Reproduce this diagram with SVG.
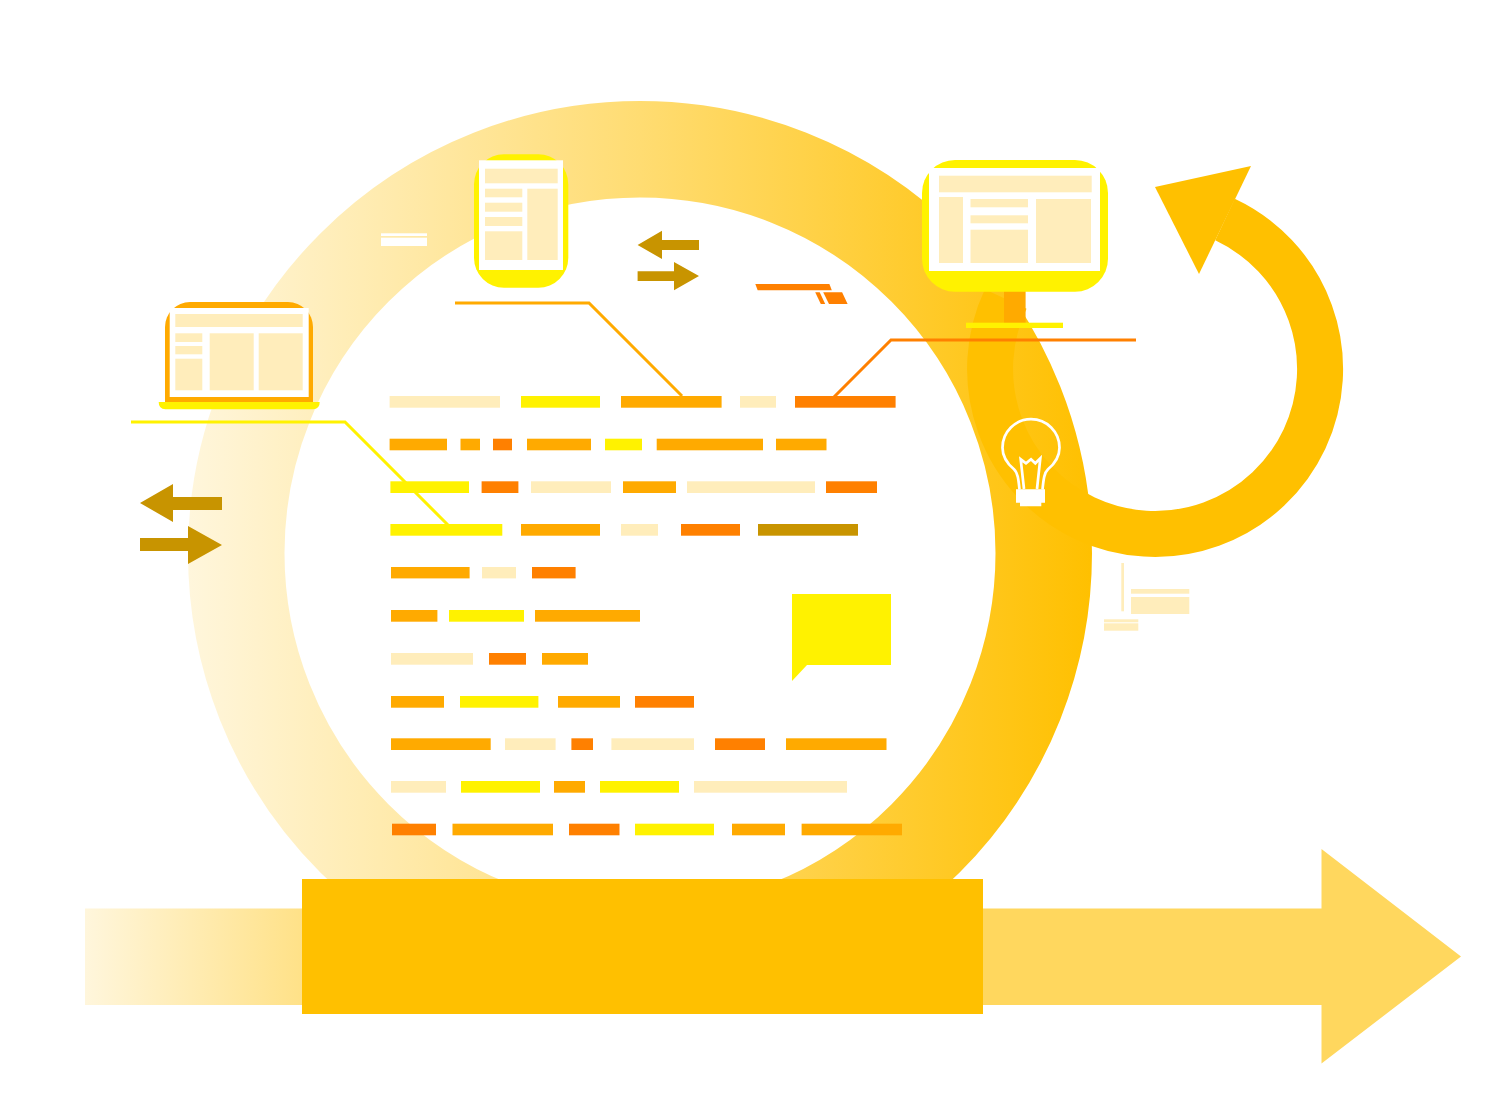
<svg xmlns="http://www.w3.org/2000/svg" width="1511" height="1103" viewBox="0 0 1511 1103">
<style>
.y{fill:#FFF200}.o{fill:#FFAA00}.d{fill:#FF8000}.b{fill:#C89400}.c{fill:#FFEDBB}.w{fill:#fff}
.link{fill:none;stroke-width:3}
</style>
<defs>
<linearGradient id="ringGrad" gradientUnits="userSpaceOnUse" x1="188" y1="0" x2="1092" y2="0">
<stop offset="0" stop-color="#FFF6DC"/><stop offset="0.5" stop-color="#FFDC72"/><stop offset="1" stop-color="#FFC000"/>
</linearGradient>
<linearGradient id="bandGrad" gradientUnits="userSpaceOnUse" x1="85" y1="0" x2="410" y2="0">
<stop offset="0" stop-color="#FFF6DC"/><stop offset="1" stop-color="#FFD75E"/>
</linearGradient>
</defs>
<rect width="1511" height="1103" fill="#fff"/>
<g id="cycle-ring">
<circle cx="640" cy="553" r="403.750" fill="none" stroke="url(#ringGrad)" stroke-width="96.500"/>
<rect class="w" x="381" y="233.300" width="46" height="2.700"/>
<rect class="w" x="381" y="237.700" width="46" height="8.300"/>
</g>
<g id="timeline-arrow">
<path d="M85 908.500H1321.500V849L1461 956.500L1321.500 1063.500V1005H85Z" fill="url(#bandGrad)"/>
<rect x="302" y="879" width="681" height="135" fill="#FFC000"/>
</g>
<g id="loop-arrow">
<path d="M1225 219.500A165 165 0 1 1 1005.700 298.900" fill="none" stroke="#FFC000" stroke-width="46"/>
<polygon points="1155,187 1251,166 1199,274" fill="#FFC000"/>
</g>
<g id="connectors">
<path class="link" stroke="#FFF200" d="M131 422H345L448 525"/>
<path class="link" stroke="#FFAA00" d="M455 303H589L682 396"/>
<path class="link" stroke="#FF8000" d="M1136 340H891L834 397"/>
</g>
<g id="laptop">
<path class="o" d="M165 402V327A25 25 0 0 1 190 302H288A25 25 0 0 1 313 327V402Z"/>
<rect class="w" x="169.700" y="308" width="139" height="89"/>
<path class="y" d="M158.700 402H319.700Q319.700 409.300 313 409.300H165.400Q158.700 409.300 158.700 402Z"/>
<rect class="c" x="175.300" y="314" width="127.400" height="13"/>
<rect class="c" x="175.300" y="333.300" width="27" height="8.700"/>
<rect class="c" x="175.300" y="346" width="27" height="8.300"/>
<rect class="c" x="175.300" y="358.700" width="27" height="31.600"/>
<rect class="c" x="209.700" y="333.300" width="44" height="57"/>
<rect class="c" x="258.700" y="333.300" width="44" height="57"/>
</g>
<g id="tablet">
<rect class="y" x="474" y="154.300" width="94.300" height="133.400" rx="30" ry="30"/>
<rect class="w" x="479" y="160.300" width="84" height="109.700"/>
<rect class="c" x="485" y="168.700" width="72.700" height="14.600"/>
<rect class="c" x="485" y="188.700" width="37.300" height="8.600"/>
<rect class="c" x="485" y="202.700" width="37.300" height="9"/>
<rect class="c" x="485" y="217" width="37.300" height="9"/>
<rect class="c" x="485" y="231.300" width="37.300" height="28.700"/>
<rect class="c" x="527.300" y="188.700" width="30.400" height="71.300"/>
</g>
<g id="monitor">
<rect class="o" x="1004" y="285" width="21.600" height="43"/>
<rect class="y" x="966" y="322.700" width="97" height="5.300"/>
<rect class="y" x="922" y="160" width="186" height="131.700" rx="33" ry="33"/>
<rect class="w" x="929" y="168" width="171" height="103"/>
<rect class="c" x="939" y="175.700" width="152.700" height="16.600"/>
<rect class="c" x="939" y="197" width="24" height="66"/>
<rect class="c" x="970.500" y="199" width="57.500" height="8.300"/>
<rect class="c" x="970.500" y="215.300" width="57.500" height="8"/>
<rect class="c" x="970.500" y="229.700" width="57.500" height="33.300"/>
<rect class="c" x="1036" y="199" width="55" height="64"/>
</g>
<g id="arrows-top">
<polygon class="b" points="637.600,245 662,230.700 662,240 699,240 699,250 662,250 662,259"/>
<polygon class="b" points="637.600,271.300 674,271.300 674,262 699,276 674,290.300 674,281 637.600,281"/>
</g>
<g id="arrows-left">
<polygon class="b" points="140,503 173,484 173,497 222,497 222,510 173,510 173,522"/>
<polygon class="b" points="140,538 188,538 188,526 222,545 188,564 188,551 140,551"/>
</g>
<g id="fragments">
<polygon class="d" points="755.300,284 829.400,284 831.800,290.300 757.700,290.300"/>
<polygon class="d" points="815.200,292.300 819.700,292.300 825.200,304 820.800,304"/>
<polygon class="d" points="823.200,292.300 842.100,292.300 847.600,304 829,304"/>
</g>
<g id="bars">
<rect class="c" x="389.600" y="396" width="110.400" height="11.700"/><rect class="y" x="521" y="396" width="79" height="11.700"/><rect class="o" x="621" y="396" width="100.600" height="11.700"/><rect class="c" x="740" y="396" width="36" height="11.700"/><rect class="d" x="795" y="396" width="100.600" height="11.700"/>
<rect class="o" x="389.600" y="438.700" width="57.400" height="11.600"/><rect class="o" x="460.500" y="438.700" width="19.500" height="11.600"/><rect class="d" x="493" y="438.700" width="19" height="11.600"/><rect class="o" x="527" y="438.700" width="64" height="11.600"/><rect class="y" x="605" y="438.700" width="37" height="11.600"/><rect class="o" x="656.700" y="438.700" width="106.300" height="11.600"/><rect class="o" x="776" y="438.700" width="50.500" height="11.600"/>
<rect class="y" x="390.400" y="481.300" width="78.600" height="11.700"/><rect class="d" x="481.600" y="481.300" width="36.800" height="11.700"/><rect class="c" x="531" y="481.300" width="80" height="11.700"/><rect class="o" x="623" y="481.300" width="53" height="11.700"/><rect class="c" x="687" y="481.300" width="128" height="11.700"/><rect class="d" x="826" y="481.300" width="51" height="11.700"/>
<rect class="y" x="390.400" y="524" width="111.900" height="11.700"/><rect class="o" x="521" y="524" width="79" height="11.700"/><rect class="c" x="621" y="524" width="37" height="11.700"/><rect class="d" x="681" y="524" width="59" height="11.700"/><rect class="b" x="758" y="524" width="100" height="11.700"/>
<rect class="o" x="391" y="567" width="78.600" height="11.400"/><rect class="c" x="482" y="567" width="34" height="11.400"/><rect class="d" x="532" y="567" width="43.600" height="11.400"/>
<rect class="o" x="391" y="610" width="46.400" height="11.700"/><rect class="y" x="449" y="610" width="75" height="11.700"/><rect class="o" x="535" y="610" width="105" height="11.700"/>
<rect class="c" x="391" y="653" width="82" height="11.700"/><rect class="d" x="489" y="653" width="37" height="11.700"/><rect class="o" x="542" y="653" width="46" height="11.700"/>
<rect class="o" x="391" y="696" width="53" height="11.700"/><rect class="y" x="460" y="696" width="78.400" height="11.700"/><rect class="o" x="558" y="696" width="62" height="11.700"/><rect class="d" x="635" y="696" width="59" height="11.700"/>
<rect class="o" x="391" y="738.300" width="99.700" height="11.700"/><rect class="c" x="505" y="738.300" width="50.600" height="11.700"/><rect class="d" x="571.400" y="738.300" width="21.600" height="11.700"/><rect class="c" x="611.400" y="738.300" width="82.600" height="11.700"/><rect class="d" x="715" y="738.300" width="50" height="11.700"/><rect class="o" x="786" y="738.300" width="100.500" height="11.700"/>
<rect class="c" x="391" y="781" width="55" height="11.700"/><rect class="y" x="461" y="781" width="79" height="11.700"/><rect class="o" x="554" y="781" width="31" height="11.700"/><rect class="y" x="600" y="781" width="79" height="11.700"/><rect class="c" x="694" y="781" width="153" height="11.700"/>
<rect class="d" x="392" y="823.700" width="44" height="11.600"/><rect class="o" x="452.500" y="823.700" width="100.500" height="11.600"/><rect class="d" x="569" y="823.700" width="50.500" height="11.600"/><rect class="y" x="635" y="823.700" width="79" height="11.600"/><rect class="o" x="732" y="823.700" width="53" height="11.600"/><rect class="o" x="801.600" y="823.700" width="100.400" height="11.600"/>
</g>
<g id="speech-bubble">
<polygon class="y" points="792,594 891,594 891,665 807,665 792,681"/>
</g>
<g id="lightbulb">
<path d="M1019.500 489.500C1018.500 480 1018 473 1014 469.300C1006 462.500 1002.500 455 1002.500 447.700A28.500 28.500 0 0 1 1059.500 447.700C1059.500 455 1056 462.500 1048 469.300C1044 473 1043.500 480 1042.500 489.500" fill="none" stroke="#fff" stroke-width="2.700"/>
<path d="M1024 489L1020.700 459.300L1026 463.300L1031 459.300L1035.300 463.300L1040.300 458.300L1037 489" fill="none" stroke="#fff" stroke-width="2.700"/>
<polygon class="w" points="1016,489.300 1045,489.300 1045,502.700 1041.300,502.700 1041.300,506.300 1020,506.300 1020,502.700 1016,502.700"/>
</g>
<g id="note-fragments">
<rect class="c" x="1121.300" y="563" width="2.700" height="48.300"/>
<rect class="c" x="1131" y="589" width="58.300" height="4.700"/>
<rect class="c" x="1131" y="597" width="58.300" height="17"/>
<rect class="c" x="1104" y="619.300" width="34.300" height="3"/>
<rect class="c" x="1104" y="623.300" width="34.300" height="7.400"/>
</g>
</svg>
